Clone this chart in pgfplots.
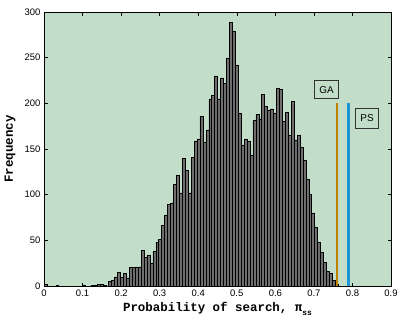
\documentclass[border=0pt]{standalone}
\usepackage{pgfplots}
\pgfplotsset{compat=1.18}
\usepackage{fontspec}
\setmainfont{Liberation Sans}
\newfontfamily\cour{Liberation Mono}
\definecolor{bg}{RGB}{194,222,200}
\definecolor{barg}{RGB}{110,110,110}
\definecolor{gaor}{RGB}{190,128,0}
\definecolor{psbl}{RGB}{28,150,215}
\definecolor{boxc}{RGB}{50,50,50}
\begin{document}
\begin{tikzpicture}
\begin{axis}[
  scale only axis, width=347bp, height=274bp,
  xmin=0, xmax=0.9, ymin=0, ymax=300,
  xtick={0,0.1,0.2,0.3,0.4,0.5,0.6,0.7,0.8,0.9},
  ytick={0,50,100,150,200,250,300},
  tick align=inside, major tick length=3.5bp,
  axis line style={black, line width=0.6bp},
  every tick/.style={black, line width=0.5bp},
  axis background/.style={fill=bg},
  tick label style={font=\fontsize{9.5}{11}\selectfont},
  /pgf/number format/assume math mode=true,
  xlabel={\cour\bfseries Probability of search, π\raisebox{-0.6ex}{\fontsize{8}{8}\selectfont ss}},
  ylabel={\cour\bfseries Frequency},
  xlabel style={font=\fontsize{12.5}{13}\selectfont, at={(axis description cs:0.5,-0.085)}, anchor=center},
  ylabel style={font=\fontsize{12.5}{13}\selectfont, at={(axis description cs:-0.098,0.5)}, anchor=center},
]
\addplot[ybar interval, fill=barg, draw=black, line width=0.5bp] table[row sep=\\] {
x y\\
0.0000 2\\
0.0076 0\\
0.0153 0\\
0.0229 0\\
0.0305 1\\
0.0382 0\\
0.0458 0\\
0.0534 0\\
0.0610 0\\
0.0687 0\\
0.0763 0\\
0.0839 0\\
0.0916 0\\
0.0992 1\\
0.1068 0\\
0.1145 0\\
0.1221 1\\
0.1297 1\\
0.1373 2\\
0.1450 2\\
0.1526 1\\
0.1602 0\\
0.1679 5\\
0.1755 6\\
0.1831 10\\
0.1908 15\\
0.1984 10\\
0.2060 14\\
0.2136 9\\
0.2213 20\\
0.2289 20\\
0.2365 21\\
0.2442 21\\
0.2518 39\\
0.2594 31\\
0.2671 34\\
0.2747 25\\
0.2823 38\\
0.2899 48\\
0.2976 51\\
0.3052 66\\
0.3128 77\\
0.3205 89\\
0.3281 91\\
0.3357 111\\
0.3434 121\\
0.3510 102\\
0.3586 140\\
0.3662 127\\
0.3739 102\\
0.3815 141\\
0.3891 158\\
0.3968 161\\
0.4044 186\\
0.4120 157\\
0.4197 171\\
0.4273 205\\
0.4349 209\\
0.4425 230\\
0.4502 205\\
0.4578 228\\
0.4654 222\\
0.4731 249\\
0.4807 289\\
0.4883 279\\
0.4960 242\\
0.5036 189\\
0.5112 154\\
0.5188 161\\
0.5265 158\\
0.5341 143\\
0.5417 181\\
0.5494 188\\
0.5570 183\\
0.5646 210\\
0.5723 197\\
0.5799 192\\
0.5875 194\\
0.5951 189\\
0.6028 216\\
0.6104 215\\
0.6180 180\\
0.6257 190\\
0.6333 165\\
0.6409 202\\
0.6486 160\\
0.6562 165\\
0.6638 152\\
0.6714 138\\
0.6791 117\\
0.6867 100\\
0.6943 80\\
0.7020 64\\
0.7096 48\\
0.7172 37\\
0.7249 26\\
0.7325 16\\
0.7401 14\\
0.7477 6\\
0.7554 2\\
0.7630 0\\
};
\addplot[gaor, line width=2.8bp] coordinates {(0.760,0) (0.760,200)};
\addplot[psbl, line width=2.8bp] coordinates {(0.7905,0) (0.7905,200)};
\node[draw=boxc, line width=0.8bp, fill=bg, minimum width=24.5bp, minimum height=18bp, inner sep=1bp, font=\fontsize{10}{11}\selectfont] at (axis cs:0.733,214.8) {GA};
\node[draw=boxc, line width=0.8bp, fill=bg, minimum width=22.5bp, minimum height=20bp, inner sep=1bp, font=\fontsize{10}{11}\selectfont] at (axis cs:0.838,183.6) {PS};
\end{axis}
\path (current axis.south west) ++(-44bp,-34bp) coordinate (bl);
\path (current axis.north east) ++(8bp,12bp) coordinate (tr);
\pgfresetboundingbox
\path (bl) rectangle (tr);
\end{tikzpicture}
\end{document}
